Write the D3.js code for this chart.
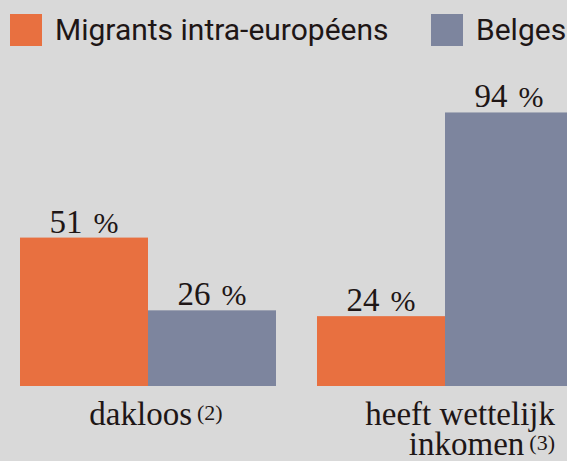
<!DOCTYPE html>
<html>
<head>
<meta charset="utf-8">
<script src="https://cdn.jsdelivr.net/npm/d3@7"></script>
<style>
  html, body { margin: 0; padding: 0; background: #d9d9d9; }
  svg { display: block; }
</style>
</head>
<body>
<svg width="567" height="461"></svg>
<script>
// Data
const categories = ['dakloos', 'heeft wettelijk inkomen'];
const labelLines = [['dakloos'], ['heeft wettelijk', 'inkomen']];
const footnotes = ['(2)', '(3)'];
const series = ['Migrants intra-européens', 'Belges'];
const migrants = [51, 24];
const belges = [26, 94];
const colors = ['#e87040', '#7d859e'];

const svg = d3.select('svg');
const textColor = '#1e1616';

// Scales
const x = d3.scaleBand()
  .domain(categories)
  .range([20, 573])
  .paddingInner(41 / 297);

const xSub = d3.scaleBand()
  .domain(series)
  .range([0, x.bandwidth()]);

const y = d3.scaleLinear()
  .domain([0, 100])
  .range([386, 95]);

const color = d3.scaleOrdinal().domain(series).range(colors);

const rows = categories.map((c, i) => ({
  cat: c,
  values: [
    { key: series[0], v: migrants[i] },
    { key: series[1], v: belges[i] }
  ]
}));

// Bars
const groups = svg.append('g').selectAll('g').data(rows)
  .join('g')
    .attr('transform', d => `translate(${x(d.cat)},0)`);

groups.selectAll('rect').data(d => d.values)
  .join('rect')
    .attr('x', d => xSub(d.key))
    .attr('y', d => y(d.v))
    .attr('width', xSub.bandwidth())
    .attr('height', d => y(0) - y(d.v))
    .attr('fill', d => color(d.key));

// Value labels
const valueText = groups.selectAll('text.value').data(d => d.values)
  .join('text')
    .attr('class', 'value')
    .attr('x', d => xSub(d.key) + xSub.bandwidth() / 2)
    .attr('y', d => y(d.v) - 5)
    .attr('text-anchor', 'middle')
    .attr('font-family', '"Liberation Serif", serif')
    .attr('font-size', 33)
    .attr('fill', textColor);
valueText.append('tspan').text(d => d.v);
valueText.append('tspan').attr('font-size', 30).attr('dx', 11).text('%');

// Category labels
const catLabel = svg.append('g').selectAll('text').data(categories)
  .join('text')
    .attr('font-family', '"Liberation Serif", serif')
    .attr('font-size', 33)
    .attr('fill', textColor)
    .attr('text-anchor', (d, i) => i === 0 ? 'middle' : 'end')
    .attr('x', (d, i) => i === 0 ? x(d) + x.bandwidth() / 2 + 8 : x(d) + x.bandwidth() - 18)
    .attr('y', 425);

catLabel.each(function(d, i) {
  const t = d3.select(this);
  const lines = labelLines[i];
  lines.forEach((line, j) => {
    t.append('tspan')
      .attr('x', t.attr('x'))
      .attr('dy', j === 0 ? 0 : 30)
      .text(line);
  });
  t.append('tspan')
    .attr('font-size', 22)
    .attr('dx', 5)
    .attr('dy', -5)
    .text(footnotes[i]);
});

// Legend
const legendX = [10, 431];
const legend = svg.append('g').selectAll('g').data(series)
  .join('g')
    .attr('transform', (d, i) => `translate(${legendX[i]},14)`);

legend.append('rect')
  .attr('width', 32)
  .attr('height', 32)
  .attr('fill', d => color(d));

legend.append('text')
  .attr('x', 45)
  .attr('y', 26)
  .attr('font-family', 'Roboto, sans-serif')
  .attr('font-size', 30)
  .attr('fill', textColor)
  .text(d => d);
</script>
</body>
</html>
